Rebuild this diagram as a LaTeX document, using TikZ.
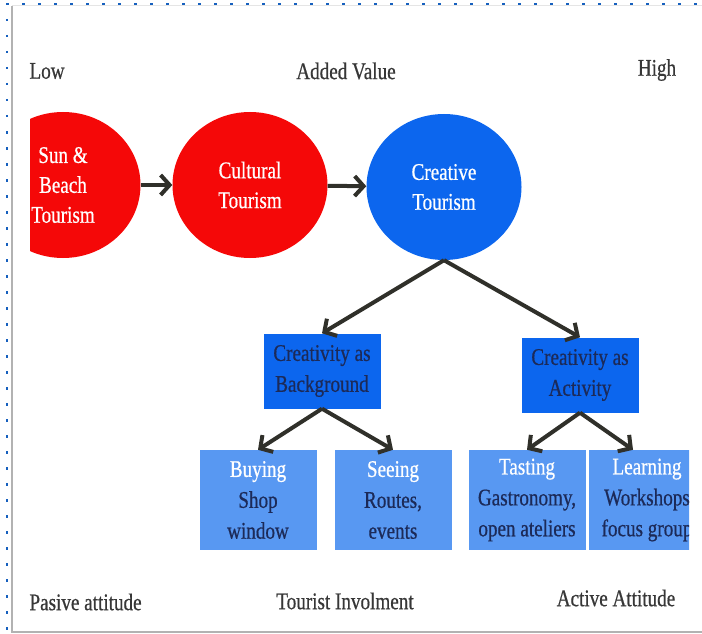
\documentclass[tikz,border=0pt]{standalone}
\usepackage{fontspec}
\setmainfont{Liberation Serif}[FakeStretch=0.8, FakeBold=0.6]
\usetikzlibrary{shapes.geometric,arrows.meta,positioning}
\definecolor{tourred}{RGB}{245,8,8}
\definecolor{tourblue}{RGB}{12,102,238}
\definecolor{paleblue}{RGB}{88,152,242}
\definecolor{navytext}{RGB}{28,42,88}
\definecolor{arrowgray}{RGB}{48,48,42}
\definecolor{dotblue}{RGB}{22,96,190}
\definecolor{labelgray}{RGB}{55,55,55}

\begin{document}
\begin{tikzpicture}[x=1bp, y=-1bp,
    tourism/.style={ellipse, fill=#1, minimum width=155bp, minimum height=146bp, inner sep=0pt,
        text=white, align=center, font=\fontsize{24}{30}\selectfont},
    kindbox/.style={rectangle, fill=tourblue, minimum width=117bp, minimum height=75bp,
        text=navytext, align=center, font=\fontsize{24}{31}\selectfont},
    actbox/.style={rectangle, fill=paleblue, minimum width=117bp, minimum height=100bp,
        text=navytext, align=center, font=\fontsize{24}{31}\selectfont},
    axislabel/.style={text=labelgray, font=\fontsize{24}{28}\selectfont},
    flow/.style={-{Straight Barb[length=9bp, width=20bp]}, line width=4bp, draw=arrowgray}]
    \useasboundingbox (0,0) rectangle (702,634);

    % frame of the screenshot
    \draw[dotblue, line width=2.5bp, dash pattern=on 2.5bp off 13.5bp] (6,4) -- (702,4);
    \draw[dotblue, line width=2.5bp, dash pattern=on 2.5bp off 13.5bp] (7,19) -- (7,634);
    \draw[gray!60, line width=2.5bp] (12,6) -- (12,632) -- (702,632);
    \draw[gray!20, line width=1bp] (12,6) -- (702,6);

    \begin{scope}
    \clip (30,0) rectangle (689,634);
    \node[tourism=tourred] (sun) at (63,185) {Sun \&\\Beach\\Tourism};
    \node[tourism=tourred] (cult) at (250,185) {Cultural\\Tourism};
    \node[tourism=tourblue] (creat) at (444,187) {Creative\\Tourism};

    \node[kindbox] (backg) at (322,371) {Creativity as\\Background};
    \node[kindbox] (activ) at (580,375) {Creativity as\\Activity};

    \node[actbox] (buy) at (258,500) {{\color{white}Buying}\\Shop\\window};
    \node[actbox] (see) at (393,500) {{\color{white}Seeing}\\Routes,\\events};
    \node[actbox] (taste) at (527,500) {{\color{white}Tasting}\\Gastronomy,\\open ateliers};
    \node[actbox] (learn) at (647,500) {{\color{white}Learning}\\Workshops\\focus group};
    \end{scope}

    \node[axislabel, anchor=west] (low) at (26,71) {Low};
    \node[axislabel] (addv) at (346,71) {Added Value};
    \node[axislabel] (high) at (657,70) {High};
    \node[axislabel, anchor=west] (pasv) at (26,602) {Pasive attitude};
    \node[axislabel] (invo) at (345,601) {Tourist Involment};
    \node[axislabel] (actv) at (616,598) {Active Attitude};

    \draw[flow] (sun) -- (cult);
    \draw[flow] (cult) -- (creat);
    \draw[flow] (creat.south) -- (backg.north);
    \draw[flow] (creat.south) -- (activ.north);
    \draw[flow] (backg.south) -- (buy.north);
    \draw[flow] (backg.south) -- (see.north);
    \draw[flow] (activ.south) -- (taste.north);
    \draw[flow] (activ.south) -- ([xshift=-14bp]learn.north);
\end{tikzpicture}
\end{document}
